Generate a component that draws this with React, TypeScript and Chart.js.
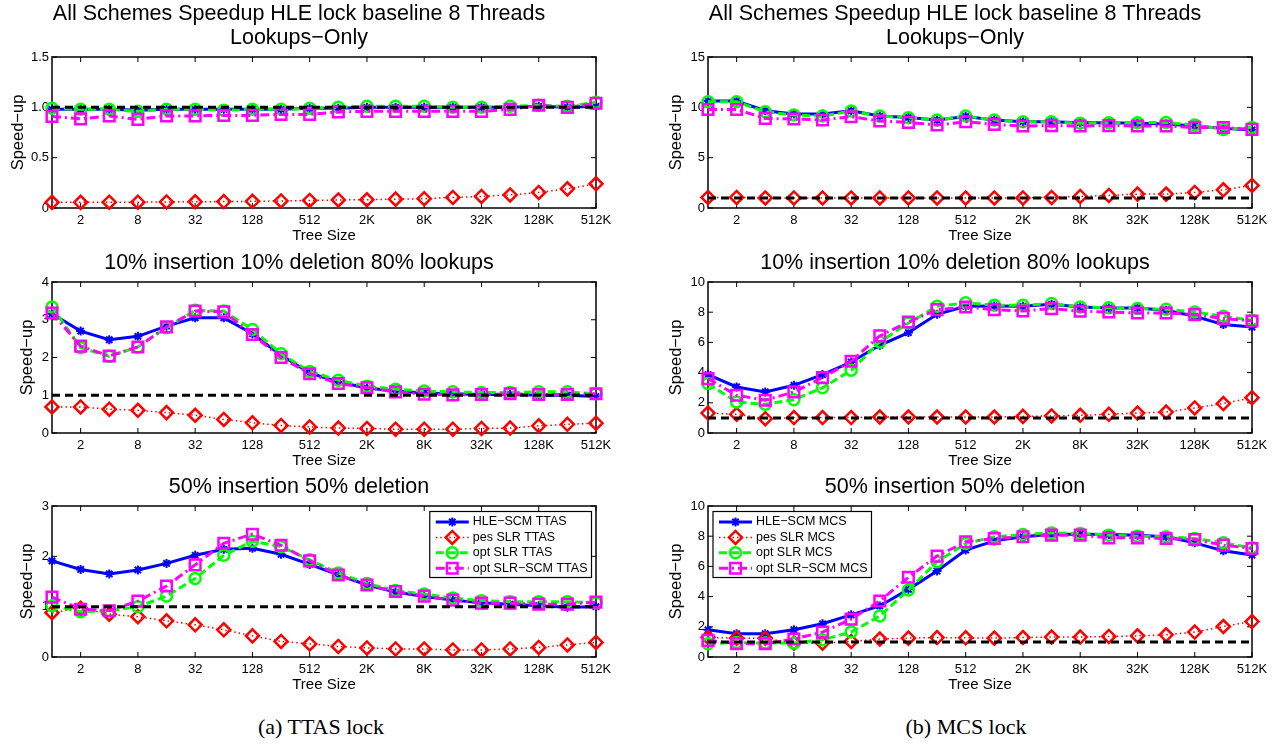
import React, { useEffect, useRef } from 'react';
import { Chart, registerables } from 'chart.js';
import { drawPoint } from 'chart.js/helpers';

Chart.register(...registerables);

const FONT = '"Liberation Sans", Arial, Helvetica, sans-serif';
const SERIF = '"Liberation Serif", "DejaVu Serif", serif';

// x axis: tree sizes 2^0 .. 2^19
const TREE_SIZES = ['1', '2', '4', '8', '16', '32', '64', '128', '256', '512', '1K', '2K', '4K', '8K', '16K', '32K', '64K', '128K', '256K', '512K'];

// HLE lock baseline (speed-up of 1)
const BASELINE = [1, 1, 1, 1, 1, 1, 1, 1, 1, 1, 1, 1, 1, 1, 1, 1, 1, 1, 1, 1];

// ---------- TTAS lock ----------
// Lookups-only
const TTAS_LOOKUP_HLE_SCM = [0.98, 0.98, 0.98, 0.97, 0.98, 0.98, 0.98, 0.98, 0.98, 0.99, 0.99, 1.0, 1.0, 1.0, 1.0, 1.0, 1.0, 1.01, 1.0, 1.01];
const TTAS_LOOKUP_PES_SLR = [0.056, 0.056, 0.058, 0.058, 0.06, 0.062, 0.064, 0.066, 0.07, 0.075, 0.08, 0.082, 0.088, 0.092, 0.105, 0.115, 0.13, 0.155, 0.19, 0.24];
const TTAS_LOOKUP_OPT_SLR = [0.99, 0.98, 0.98, 0.96, 0.98, 0.98, 0.97, 0.98, 0.98, 0.99, 1.0, 1.01, 1.01, 1.01, 1.0, 1.0, 1.01, 1.02, 1.01, 1.05];
const TTAS_LOOKUP_OPT_SLR_SCM = [0.91, 0.885, 0.915, 0.88, 0.915, 0.915, 0.92, 0.92, 0.93, 0.93, 0.955, 0.96, 0.96, 0.96, 0.96, 0.96, 0.98, 1.02, 1.0, 1.04];
// 10% insertion 10% deletion 80% lookups
const TTAS_MIX_HLE_SCM = [3.16, 2.7, 2.47, 2.56, 2.83, 3.05, 3.05, 2.63, 2.06, 1.59, 1.35, 1.19, 1.11, 1.06, 1.04, 1.02, 1.02, 1.0, 1.0, 0.97];
const TTAS_MIX_PES_SLR = [0.69, 0.69, 0.63, 0.6, 0.54, 0.47, 0.36, 0.27, 0.2, 0.16, 0.13, 0.12, 0.1, 0.1, 0.1, 0.12, 0.13, 0.19, 0.23, 0.26];
const TTAS_MIX_OPT_SLR = [3.34, 2.26, 2.03, 2.28, 2.79, 3.25, 3.23, 2.74, 2.1, 1.63, 1.4, 1.24, 1.16, 1.11, 1.09, 1.07, 1.07, 1.09, 1.09, 1.04];
const TTAS_MIX_OPT_SLR_SCM = [3.18, 2.3, 2.04, 2.28, 2.81, 3.23, 3.21, 2.61, 2.0, 1.57, 1.31, 1.2, 1.09, 1.03, 1.01, 1.02, 1.04, 1.02, 1.02, 1.04];
// 50% insertion 50% deletion
const TTAS_UPD_HLE_SCM = [1.91, 1.74, 1.65, 1.73, 1.86, 2.02, 2.14, 2.16, 2.04, 1.84, 1.63, 1.43, 1.29, 1.2, 1.13, 1.08, 1.05, 1.02, 0.99, 1.0];
const TTAS_UPD_PES_SLR = [0.88, 0.97, 0.85, 0.8, 0.72, 0.64, 0.54, 0.42, 0.31, 0.26, 0.21, 0.18, 0.16, 0.16, 0.14, 0.14, 0.16, 0.19, 0.24, 0.29];
const TTAS_UPD_OPT_SLR = [1.02, 0.9, 0.92, 1.0, 1.21, 1.56, 2.02, 2.3, 2.19, 1.93, 1.67, 1.46, 1.32, 1.25, 1.17, 1.12, 1.1, 1.1, 1.1, 1.08];
const TTAS_UPD_OPT_SLR_SCM = [1.19, 0.95, 0.92, 1.11, 1.41, 1.83, 2.26, 2.44, 2.22, 1.91, 1.63, 1.43, 1.3, 1.21, 1.13, 1.07, 1.07, 1.05, 1.05, 1.09];

// ---------- MCS lock ----------
const MCS_LOOKUP_HLE_SCM = [10.62, 10.62, 9.66, 9.33, 9.33, 9.66, 9.13, 9.0, 8.74, 9.1, 8.74, 8.57, 8.57, 8.47, 8.47, 8.41, 8.34, 8.14, 7.91, 7.75];
const MCS_LOOKUP_PES_SLR = [1.05, 1.05, 1.0, 1.0, 1.0, 1.0, 1.0, 1.0, 1.0, 1.0, 1.0, 1.0, 1.05, 1.15, 1.25, 1.38, 1.38, 1.55, 1.81, 2.24];
const MCS_LOOKUP_OPT_SLR = [10.55, 10.55, 9.56, 9.23, 9.13, 9.63, 9.13, 8.97, 8.74, 9.13, 8.74, 8.57, 8.57, 8.41, 8.47, 8.47, 8.5, 8.24, 7.81, 8.0];
const MCS_LOOKUP_OPT_SLR_SCM = [9.79, 9.79, 8.9, 8.84, 8.74, 9.07, 8.64, 8.51, 8.24, 8.57, 8.31, 8.14, 8.18, 8.14, 8.18, 8.14, 8.14, 8.01, 8.0, 7.81];

const MCS_MIX_HLE_SCM = [3.87, 3.05, 2.72, 3.16, 3.87, 4.7, 5.81, 6.65, 7.86, 8.39, 8.41, 8.39, 8.52, 8.34, 8.28, 8.28, 8.13, 7.73, 7.18, 7.02];
const MCS_MIX_PES_SLR = [1.32, 1.24, 0.95, 1.02, 1.02, 1.02, 1.06, 1.06, 1.06, 1.06, 1.06, 1.1, 1.13, 1.17, 1.24, 1.32, 1.39, 1.66, 1.95, 2.34];
const MCS_MIX_OPT_SLR = [3.27, 2.05, 1.9, 2.21, 3.0, 4.15, 6.03, 7.28, 8.39, 8.62, 8.46, 8.46, 8.57, 8.34, 8.3, 8.24, 8.19, 8.01, 7.73, 7.46];
const MCS_MIX_OPT_SLR_SCM = [3.6, 2.5, 2.17, 2.72, 3.67, 4.75, 6.43, 7.35, 8.17, 8.34, 8.17, 8.08, 8.24, 8.06, 8.01, 7.95, 7.95, 7.84, 7.58, 7.42];

const MCS_UPD_HLE_SCM = [1.8, 1.54, 1.54, 1.8, 2.2, 2.79, 3.38, 4.48, 5.69, 7.08, 7.69, 7.96, 8.13, 8.13, 8.11, 8.07, 7.96, 7.56, 7.03, 6.75];
const MCS_UPD_PES_SLR = [1.3, 1.25, 1.25, 0.92, 0.92, 1.03, 1.19, 1.25, 1.29, 1.27, 1.25, 1.29, 1.32, 1.32, 1.36, 1.4, 1.47, 1.65, 2.02, 2.35];
const MCS_UPD_OPT_SLR = [0.88, 0.96, 0.92, 0.92, 1.14, 1.65, 2.72, 4.44, 6.31, 7.52, 7.96, 8.11, 8.22, 8.18, 8.07, 8.0, 7.96, 7.85, 7.56, 7.23];
const MCS_UPD_OPT_SLR_SCM = [1.1, 0.88, 0.88, 1.19, 1.65, 2.51, 3.71, 5.28, 6.68, 7.63, 7.85, 7.96, 8.07, 8.07, 7.89, 7.89, 7.85, 7.78, 7.41, 7.19];

const TITLE_LOOKUP = ['All Schemes Speedup HLE lock baseline 8 Threads', 'Lookups\u2212Only'];
const TITLE_MIX = '10% insertion 10% deletion 80% lookups';
const TITLE_UPD = '50% insertion 50% deletion';

// line / marker styles for the four schemes
const SERIES_STYLE = [
  { name: 'HLE\u2212SCM', color: '#0000ff', width: 3, dash: [] as number[], point: 'star', radius: 4.5, pointWidth: 2 },
  { name: 'pes SLR', color: '#ff0000', width: 1.5, dash: [1.5, 3], point: 'rectRot', radius: 6.5, pointWidth: 2.5 },
  { name: 'opt SLR', color: '#00ff00', width: 3, dash: [8, 4], point: 'circle', radius: 5.5, pointWidth: 2.5 },
  { name: 'opt SLR\u2212SCM', color: '#ff00ff', width: 3, dash: [9, 4, 2, 4], point: 'rect', radius: 7.5, pointWidth: 2.5 },
];

const Y_AXIS_W = 50;
const X_AXIS_H = 45;
const RIGHT_PAD = 20;
const TITLE_SIZE = 21.5;
const TITLE_LINE = 24;
const TITLE_GAP = 7;
const YTITLE_SIZE = 16.5;

type PanelSpec = {
  key: string;
  plotLeft: number;
  plotTop: number;
  plotW: number;
  plotH: number;
  title: string | string[];
  yMax: number;
  yStep: number;
  yTitleOffset: number;
  lock: string;
  series: number[][];
  legend?: 'left' | 'right';
};

const PANELS: PanelSpec[] = [
  { key: 'ttas-lookup', plotLeft: 52, plotTop: 57, plotW: 544, plotH: 151, title: TITLE_LOOKUP, yMax: 1.5, yStep: 0.5, yTitleOffset: 34, lock: 'TTAS',
    series: [TTAS_LOOKUP_HLE_SCM, TTAS_LOOKUP_PES_SLR, TTAS_LOOKUP_OPT_SLR, TTAS_LOOKUP_OPT_SLR_SCM] },
  { key: 'ttas-mix', plotLeft: 52, plotTop: 282, plotW: 544, plotH: 151, title: TITLE_MIX, yMax: 4, yStep: 1, yTitleOffset: 25, lock: 'TTAS',
    series: [TTAS_MIX_HLE_SCM, TTAS_MIX_PES_SLR, TTAS_MIX_OPT_SLR, TTAS_MIX_OPT_SLR_SCM] },
  { key: 'ttas-upd', plotLeft: 52, plotTop: 506, plotW: 544, plotH: 151, title: TITLE_UPD, yMax: 3, yStep: 1, yTitleOffset: 25, lock: 'TTAS',
    series: [TTAS_UPD_HLE_SCM, TTAS_UPD_PES_SLR, TTAS_UPD_OPT_SLR, TTAS_UPD_OPT_SLR_SCM], legend: 'right' },
  { key: 'mcs-lookup', plotLeft: 708, plotTop: 57, plotW: 544, plotH: 151, title: TITLE_LOOKUP, yMax: 15, yStep: 5, yTitleOffset: 32, lock: 'MCS',
    series: [MCS_LOOKUP_HLE_SCM, MCS_LOOKUP_PES_SLR, MCS_LOOKUP_OPT_SLR, MCS_LOOKUP_OPT_SLR_SCM] },
  { key: 'mcs-mix', plotLeft: 708, plotTop: 282, plotW: 544, plotH: 151, title: TITLE_MIX, yMax: 10, yStep: 2, yTitleOffset: 32, lock: 'MCS',
    series: [MCS_MIX_HLE_SCM, MCS_MIX_PES_SLR, MCS_MIX_OPT_SLR, MCS_MIX_OPT_SLR_SCM] },
  { key: 'mcs-upd', plotLeft: 708, plotTop: 506, plotW: 544, plotH: 151, title: TITLE_UPD, yMax: 10, yStep: 2, yTitleOffset: 32, lock: 'MCS',
    series: [MCS_UPD_HLE_SCM, MCS_UPD_PES_SLR, MCS_UPD_OPT_SLR, MCS_UPD_OPT_SLR_SCM], legend: 'left' },
];

// Axes box with inward tick marks on all four sides
const framePlugin = {
  id: 'frame',
  beforeDatasetsDraw(chart: any) {
    const { ctx, chartArea: a, scales } = chart;
    const xs = scales.x;
    const ys = scales.y;
    const T = 5;
    ctx.save();
    ctx.setLineDash([]);
    ctx.strokeStyle = '#000';
    ctx.lineWidth = 1;
    ctx.beginPath();
    xs.ticks.forEach((t: any, i: number) => {
      if (!t.label) return;
      const px = xs.getPixelForTick(i);
      ctx.moveTo(px, a.top);
      ctx.lineTo(px, a.top + T);
      ctx.moveTo(px, a.bottom);
      ctx.lineTo(px, a.bottom - T);
    });
    ys.ticks.forEach((t: any) => {
      const py = ys.getPixelForValue(t.value);
      ctx.moveTo(a.left, py);
      ctx.lineTo(a.left + T, py);
      ctx.moveTo(a.right, py);
      ctx.lineTo(a.right - T, py);
    });
    ctx.stroke();
    ctx.lineWidth = 1.5;
    ctx.strokeRect(a.left, a.top, a.right - a.left, a.bottom - a.top);
    ctx.restore();
  },
};

// Boxed legend drawn inside the plot area
const boxLegendPlugin = {
  id: 'boxLegend',
  afterDraw(chart: any, _args: any, opts: any) {
    if (!opts || !opts.side) return;
    const { ctx, chartArea: a } = chart;
    const items = chart.data.datasets.filter((d: any) => d.inLegend !== false);
    ctx.save();
    ctx.font = `12.5px ${FONT}`;
    const textW = Math.max(...items.map((d: any) => ctx.measureText(d.label).width));
    const padL = 6, lineLen = 33, gap = 4, padR = 4, rowH = 15.4, firstRow = 10.5, h = 66;
    const w = padL + lineLen + gap + textW + padR;
    const bx = opts.side === 'right' ? a.right - 4.5 - w : a.left + 5;
    const by = a.top + 5.5;
    ctx.setLineDash([]);
    ctx.fillStyle = '#fff';
    ctx.fillRect(bx, by, w, h);
    ctx.lineWidth = 1.2;
    ctx.strokeStyle = '#000';
    ctx.strokeRect(bx, by, w, h);
    items.forEach((d: any, i: number) => {
      const cy = by + firstRow + i * rowH;
      const x0 = bx + padL;
      const x1 = x0 + lineLen;
      ctx.strokeStyle = d.borderColor;
      ctx.lineWidth = d.borderWidth;
      ctx.setLineDash(d.borderDash || []);
      ctx.beginPath();
      ctx.moveTo(x0, cy);
      ctx.lineTo(x1, cy);
      ctx.stroke();
      ctx.setLineDash([]);
      ctx.lineWidth = d.pointBorderWidth;
      ctx.strokeStyle = d.pointBorderColor;
      ctx.fillStyle = 'rgba(0,0,0,0)';
      drawPoint(ctx, { pointStyle: d.pointStyle, radius: d.pointRadius, borderWidth: d.pointBorderWidth, rotation: 0 } as any, (x0 + x1) / 2, cy);
      ctx.fillStyle = '#000';
      ctx.textAlign = 'left';
      ctx.textBaseline = 'middle';
      ctx.fillText(d.label, x1 + gap, cy);
    });
    ctx.restore();
  },
};

function Panel({ spec }: { spec: PanelSpec }) {
  const ref = useRef<HTMLCanvasElement>(null);
  const lines = Array.isArray(spec.title) ? spec.title.length : 1;
  const titleH = lines * TITLE_LINE + TITLE_GAP;
  const cw = Y_AXIS_W + spec.plotW + RIGHT_PAD;
  const ch = titleH + spec.plotH + X_AXIS_H;

  useEffect(() => {
    if (!ref.current) return;
    const datasets: any[] = spec.series.map((values, i) => {
      const s = SERIES_STYLE[i];
      return {
        label: `${s.name} ${spec.lock}`,
        data: values,
        borderColor: s.color,
        borderWidth: s.width,
        borderDash: s.dash,
        pointStyle: s.point,
        pointRadius: s.radius,
        pointHoverRadius: s.radius,
        pointBorderWidth: s.pointWidth,
        pointBorderColor: s.color,
        pointBackgroundColor: 'rgba(0,0,0,0)',
        tension: 0,
        fill: false,
        clip: false,
        order: SERIES_STYLE.length - i,
      };
    });
    datasets.push({
      label: 'HLE lock',
      data: BASELINE,
      borderColor: '#000',
      borderWidth: 3,
      borderDash: [8, 5],
      pointRadius: 0,
      fill: false,
      clip: false,
      order: 0,
      inLegend: false,
    });

    const chart = new Chart(ref.current, {
      type: 'line',
      data: { labels: TREE_SIZES, datasets },
      options: {
        responsive: false,
        animation: false,
        devicePixelRatio: 1,
        events: [],
        layout: { padding: { top: 0, left: 0, right: RIGHT_PAD, bottom: 0 } },
        plugins: {
          legend: { display: false },
          tooltip: { enabled: false },
          title: {
            display: true,
            text: spec.title,
            color: '#000',
            font: { family: FONT, size: TITLE_SIZE, weight: 'normal', lineHeight: TITLE_LINE / TITLE_SIZE },
            padding: { top: 0, bottom: TITLE_GAP },
          },
          boxLegend: spec.legend ? { side: spec.legend } : false,
        } as any,
        scales: {
          x: {
            type: 'category',
            offset: false,
            grid: { display: false, drawTicks: false },
            border: { display: false },
            ticks: {
              autoSkip: false,
              maxRotation: 0,
              minRotation: 0,
              padding: 4.5,
              color: '#000',
              font: { family: FONT, size: 13 },
              callback: (_v: any, i: number) => (i % 2 === 1 ? TREE_SIZES[i] : ''),
            },
            title: { display: true, text: 'Tree Size', color: '#000', font: { family: FONT, size: 15 }, padding: { top: 0, bottom: 8.5 } },
            afterFit: (s: any) => { s.height = X_AXIS_H; },
          },
          y: {
            type: 'linear',
            min: 0,
            max: spec.yMax,
            grid: { display: false, drawTicks: false },
            border: { display: false },
            ticks: { stepSize: spec.yStep, padding: 3, color: '#000', font: { family: FONT, size: 13 } },
            title: {
              display: true,
              text: 'Speed\u2212up',
              color: '#000',
              font: { family: FONT, size: YTITLE_SIZE },
              padding: { top: Y_AXIS_W - spec.yTitleOffset - (YTITLE_SIZE * 1.2) / 2, bottom: 0 },
            },
            afterFit: (s: any) => { s.width = Y_AXIS_W; },
          },
        } as any,
      },
      plugins: [framePlugin, boxLegendPlugin],
    });
    return () => chart.destroy();
  }, [spec]);

  return (
    <canvas
      ref={ref}
      width={cw}
      height={ch}
      style={{ position: 'absolute', left: spec.plotLeft - Y_AXIS_W, top: spec.plotTop - titleH, width: cw, height: ch }}
    />
  );
}

const CAPTIONS = [
  { text: '(a) TTAS lock', cx: 321 },
  { text: '(b) MCS lock', cx: 966 },
];

export default function App() {
  return (
    <div style={{ position: 'fixed', left: 0, top: 0, width: 1281, height: 746, background: '#fff', overflow: 'hidden' }}>
      {PANELS.map((p) => (
        <Panel key={p.key} spec={p} />
      ))}
      {CAPTIONS.map((c) => (
        <div
          key={c.text}
          style={{
            position: 'absolute',
            left: c.cx - 150,
            width: 300,
            top: 713,
            textAlign: 'center',
            fontFamily: SERIF,
            fontSize: 22,
            lineHeight: '28px',
            color: '#000',
          }}
        >
          {c.text}
        </div>
      ))}
    </div>
  );
}
